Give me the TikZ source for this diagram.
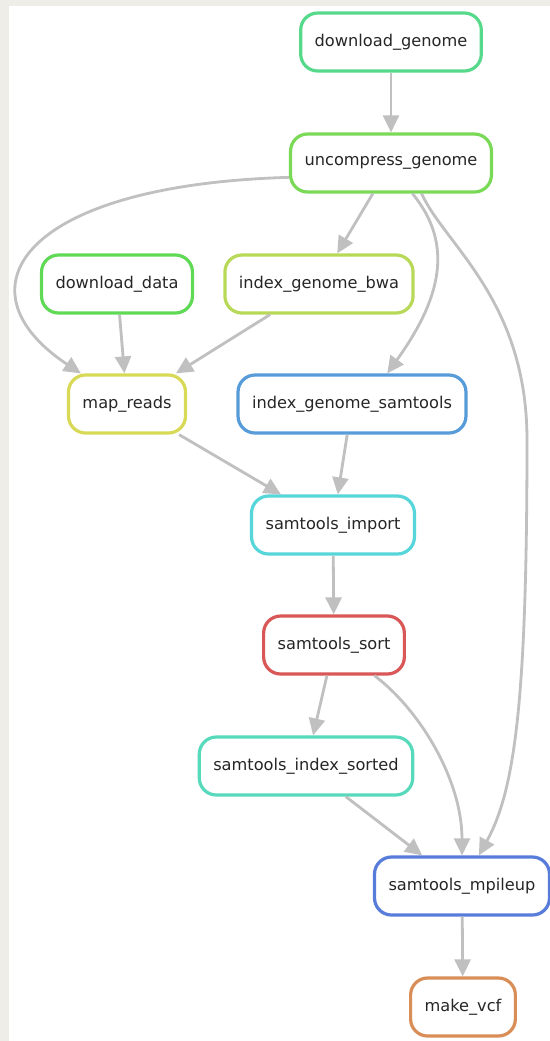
\documentclass[tikz,border=0pt]{standalone}
\usepackage{fontspec}
\setmainfont{DejaVu Sans}
\usetikzlibrary{arrows.meta}

\definecolor{pagegray}{RGB}{239,237,232}
\definecolor{edgegray}{RGB}{192,192,192}
\definecolor{dlgenomecol}{RGB}{87,217,139}
\definecolor{uncompresscol}{RGB}{122,217,87}
\definecolor{dldatacol}{RGB}{96,217,87}
\definecolor{bwacol}{RGB}{184,217,87}
\definecolor{mapcol}{RGB}{215,217,87}
\definecolor{faidxcol}{RGB}{87,156,217}
\definecolor{importcol}{RGB}{87,214,217}
\definecolor{sortcol}{RGB}{217,87,87}
\definecolor{sortedcol}{RGB}{87,217,187}
\definecolor{mpileupcol}{RGB}{87,124,217}
\definecolor{vcfcol}{RGB}{217,141,87}

\begin{document}
\begin{tikzpicture}[x=0.5pt,y=-0.5pt,
  job/.style={draw,line width=1.6pt,rounded corners=8.5pt,fill=white,minimum height=29pt,inner xsep=7pt,font=\fontsize{8.1}{10}\selectfont,text=black!85},
  dep/.style={draw=edgegray,line width=1.4pt,-{Triangle[length=8.5pt,width=8pt]}}]
  \fill[pagegray] (0,0) rectangle (550,1041);
  \fill[white] (9,6) rectangle (550,1041);
  \useasboundingbox (0,0) rectangle (550,1041);

  \node[job,draw=dlgenomecol] (download_genome) at (391,42) {download\_genome};
  \node[job,draw=uncompresscol] (uncompress_genome) at (391,163) {uncompress\_genome};
  \node[job,draw=dldatacol] (download_data) at (117,284) {download\_data};
  \node[job,draw=bwacol] (index_genome_bwa) at (319,284) {index\_genome\_bwa};
  \node[job,draw=mapcol] (map_reads) at (127,404) {map\_reads};
  \node[job,draw=faidxcol] (index_genome_samtools) at (352,404) {index\_genome\_samtools};
  \node[job,draw=importcol] (samtools_import) at (333,525) {samtools\_import};
  \node[job,draw=sortcol] (samtools_sort) at (334,645) {samtools\_sort};
  \node[job,draw=sortedcol] (samtools_index_sorted) at (306,766) {samtools\_index\_sorted};
  \node[job,draw=mpileupcol] (samtools_mpileup) at (462,886) {samtools\_mpileup};
  \node[job,draw=vcfcol] (make_vcf) at (463,1007) {make\_vcf};

  \draw[dep] (download_genome) -- (uncompress_genome);
  \draw[dep] (uncompress_genome.188) .. controls (20,185) and (-45,290) .. (map_reads);
  \draw[dep] (uncompress_genome) -- (index_genome_bwa);
  \draw[dep] (uncompress_genome.-55) .. controls (455,245) and (440,300) .. (index_genome_samtools.41);
  \draw[dep] (uncompress_genome.-45) .. controls (445,245) and (527,300) .. (527,440)
    .. controls (527,700) and (515,790) .. (samtools_mpileup);
  \draw[dep] (download_data) -- (map_reads);
  \draw[dep] (index_genome_bwa) -- (map_reads);
  \draw[dep] (map_reads) -- (samtools_import);
  \draw[dep] (index_genome_samtools) -- (samtools_import);
  \draw[dep] (samtools_import) -- (samtools_sort);
  \draw[dep] (samtools_sort) -- (samtools_index_sorted);
  \draw[dep] (samtools_sort) .. controls (420,710) and (462,780) .. (samtools_mpileup);
  \draw[dep] (samtools_index_sorted) -- (samtools_mpileup);
  \draw[dep] (samtools_mpileup) -- (make_vcf);
\end{tikzpicture}
\end{document}
